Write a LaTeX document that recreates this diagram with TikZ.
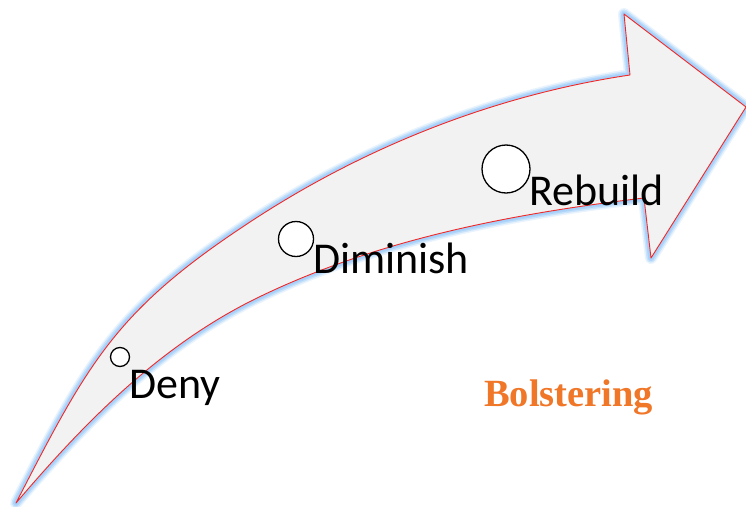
\documentclass[tikz,border=0pt]{standalone}
\usepackage{fontspec}
\setmainfont{Carlito}
\newfontfamily\bolsfont{Liberation Serif}
\definecolor{arrowfill}{RGB}{242,242,242}
\definecolor{arrowline}{RGB}{240,40,40}
\definecolor{glowblue}{RGB}{165,208,250}
\definecolor{bolsorange}{RGB}{240,118,40}
\tikzset{
  glow/.style={draw=glowblue, line join=round, line cap=round},
  stepcircle/.style={circle, draw=black, fill=white, line width=1.3pt, inner sep=0pt},
  steplabel/.style={anchor=base west, inner sep=0pt, font=\fontsize{44}{50}\selectfont, text=black},
}
\begin{document}
\begin{tikzpicture}[x=1pt, y=-1pt]
\fill[white] (0,0) rectangle (746,506);
\useasboundingbox (0,0) rectangle (746,506);

% outline of the curved arrow
\def\arrowpath{
  (16,503) .. controls (89,361) and (116,310) .. (250,222)
           .. controls (364,147) and (495,95) .. (630,75)
  -- (624,14) -- (746,107) -- (651,258) -- (644,198)
           .. controls (510,214) and (374,240) .. (253,300)
           .. controls (155,349) and (80,428) .. (16,503)
  -- cycle}

% soft blue glow around the arrow
\draw[glow, line width=12pt, opacity=0.25] \arrowpath;
\draw[glow, line width=9pt, opacity=0.45] \arrowpath;
\draw[glow, line width=6pt, opacity=0.75] \arrowpath;
\draw[glow, line width=3.5pt] \arrowpath;

% arrow body
\fill[arrowfill] \arrowpath;
\draw[arrowline, line width=0.9pt, line join=round] \arrowpath;

% stages along the arrow
\node[stepcircle, minimum size=19pt] (cDeny) at (120,357) {};
\node[steplabel] (lDeny) at (129,398) {Deny};

\node[stepcircle, minimum size=35pt] (cDiminish) at (296,239) {};
\node[steplabel] (lDiminish) at (313,273) {Diminish};

\node[stepcircle, minimum size=48pt] (cRebuild) at (506,169) {};
\node[steplabel] (lRebuild) at (529,205) {Rebuild};

% title
\node[anchor=base west, inner sep=0pt, text=bolsorange,
      font=\bolsfont\bfseries\fontsize{38.5}{44}\selectfont] (bols) at (484,406) {Bolstering};
\end{tikzpicture}
\end{document}
